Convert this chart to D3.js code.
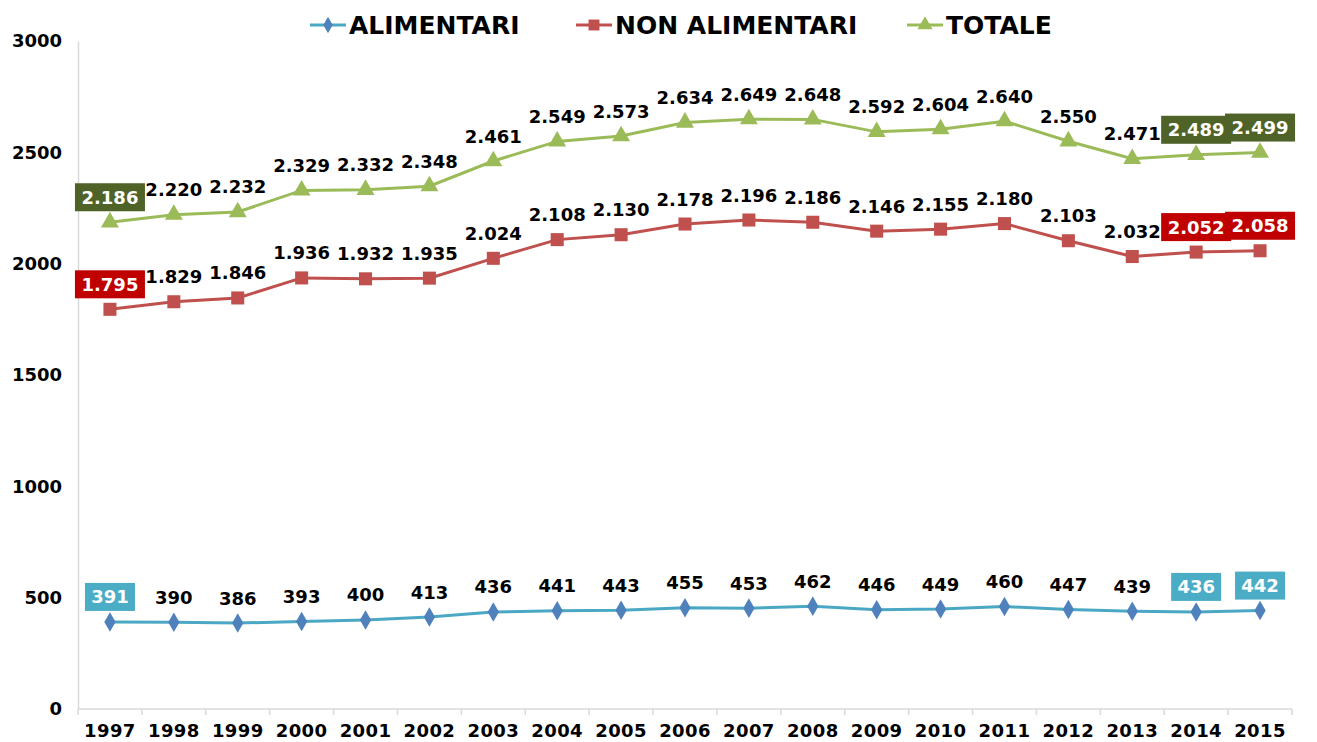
<!DOCTYPE html>
<html>
<head>
<meta charset="utf-8">
<script src="https://cdn.jsdelivr.net/npm/d3@7"></script>
<style>
  body { margin: 0; background: #fff; }
  text { font-family: "DejaVu Sans", Verdana, sans-serif; font-weight: bold; }
</style>
</head>
<body>
<svg id="chart" width="1317" height="742"></svg>
<script>
const years = ["1997", "1998", "1999", "2000", "2001", "2002", "2003", "2004", "2005", "2006",
  "2007", "2008", "2009", "2010", "2011", "2012", "2013", "2014", "2015"];
const alimentari = [391, 390, 386, 393, 400, 413, 436, 441, 443, 455, 453, 462, 446, 449, 460, 447, 439, 436, 442];
const nonAlimentari = [1795, 1829, 1846, 1936, 1932, 1935, 2024, 2108, 2130, 2178, 2196, 2186, 2146, 2155, 2180, 2103, 2032, 2052, 2058];
const totale = [2186, 2220, 2232, 2329, 2332, 2348, 2461, 2549, 2573, 2634, 2649, 2648, 2592, 2604, 2640, 2550, 2471, 2489, 2499];
const yTicks = [0, 500, 1000, 1500, 2000, 2500, 3000];
const highlighted = ["1997", "2014", "2015"];

const series = [
  { name: "ALIMENTARI", values: alimentari, line: "#4aa8c4", marker: "#4f81bd", box: "#4bacc6", shape: "diamond", legendX: 310 },
  { name: "NON ALIMENTARI", values: nonAlimentari, line: "#c0504d", marker: "#c0504d", box: "#c00000", shape: "square", legendX: 576 },
  { name: "TOTALE", values: totale, line: "#9bbb59", marker: "#9bbb59", box: "#4f6228", shape: "triangle", legendX: 907 }
];

const it = d3.formatLocale({ decimal: ",", thousands: ".", grouping: [3], currency: ["", "€"] });
const fmt = it.format(",d");

const margin = { top: 41, right: 25, bottom: 33, left: 78 };
const width = 1317, height = 742;
const svg = d3.select("#chart");

const x = d3.scaleBand().domain(years).range([margin.left, width - margin.right]);
const y = d3.scaleLinear().domain([0, 3000]).range([height - margin.bottom, margin.top]);

// y axis
svg.append("g")
  .attr("transform", `translate(${margin.left},0)`)
  .call(d3.axisLeft(y).tickValues(yTicks).tickSize(0).tickPadding(16).tickFormat(d3.format("d")))
  .call(g => g.select(".domain").attr("stroke", "#d9d9d9").attr("stroke-width", 1.5))
  .call(g => g.selectAll("text").attr("font-size", 18).attr("fill", "#000"));

// x axis
const xAxis = svg.append("g").attr("transform", `translate(0,${y(0)})`);
xAxis.append("line")
  .attr("x1", margin.left).attr("x2", width - margin.right)
  .attr("stroke", "#d9d9d9").attr("stroke-width", 1.5);
xAxis.selectAll(".tick-mark")
  .data(years.concat(["end"]))
  .join("line")
  .attr("x1", (d, i) => i < years.length ? x(d) : x.range()[1])
  .attr("x2", (d, i) => i < years.length ? x(d) : x.range()[1])
  .attr("y1", 0).attr("y2", 6)
  .attr("stroke", "#d9d9d9").attr("stroke-width", 1.5);
xAxis.selectAll(".year")
  .data(years)
  .join("text")
  .attr("x", d => x(d) + x.bandwidth() / 2)
  .attr("y", 22)
  .attr("dy", "0.35em")
  .attr("text-anchor", "middle")
  .attr("font-size", 18)
  .attr("letter-spacing", 0.4)
  .text(d => d);

const symbolType = { diamond: d3.symbolDiamond, square: d3.symbolSquare, triangle: d3.symbolTriangle };
const symbolSize = { diamond: 110, square: 170, triangle: 140 };

const line = d3.line()
  .x((d, i) => x(years[i]) + x.bandwidth() / 2)
  .y(d => y(d));

series.forEach(s => {
  const g = svg.append("g");
  g.append("path")
    .datum(s.values)
    .attr("fill", "none")
    .attr("stroke", s.line)
    .attr("stroke-width", 3)
    .attr("d", line);

  g.selectAll(".mark")
    .data(s.values)
    .join("path")
    .attr("transform", (d, i) => `translate(${x(years[i]) + x.bandwidth() / 2},${y(d)})`)
    .attr("d", d3.symbol(symbolType[s.shape], symbolSize[s.shape]))
    .attr("fill", s.marker);

  const labels = g.selectAll(".lab")
    .data(s.values.map((v, i) => ({ v, year: years[i] })))
    .join("g")
    .attr("transform", d => `translate(${x(d.year) + x.bandwidth() / 2},${y(d.v) - 25})`);

  labels.filter(d => highlighted.includes(d.year))
    .append("rect")
    .attr("x", d => d.v >= 1000 ? -35 : -25)
    .attr("width", d => d.v >= 1000 ? 70 : 50)
    .attr("y", -14).attr("height", 28)
    .attr("fill", s.box);

  labels.append("text")
    .attr("text-anchor", "middle")
    .attr("dy", "0.36em")
    .attr("font-size", 18)
    .attr("fill", d => highlighted.includes(d.year) ? "#fff" : "#000")
    .text(d => fmt(d.v));

  // legend
  const lg = svg.append("g").attr("transform", `translate(${s.legendX},25)`);
  lg.append("line").attr("x1", 0).attr("x2", 36).attr("stroke", s.line).attr("stroke-width", 3);
  lg.append("path")
    .attr("transform", "translate(18,0)")
    .attr("d", d3.symbol(symbolType[s.shape], symbolSize[s.shape] * 0.7))
    .attr("fill", s.marker);
  lg.append("text")
    .attr("x", 39)
    .attr("dy", "0.36em")
    .attr("font-size", 25)
    .attr("font-family", "'DejaVu Sans Condensed', 'DejaVu Sans', sans-serif")
    .text(s.name);
});
</script>
</body>
</html>
